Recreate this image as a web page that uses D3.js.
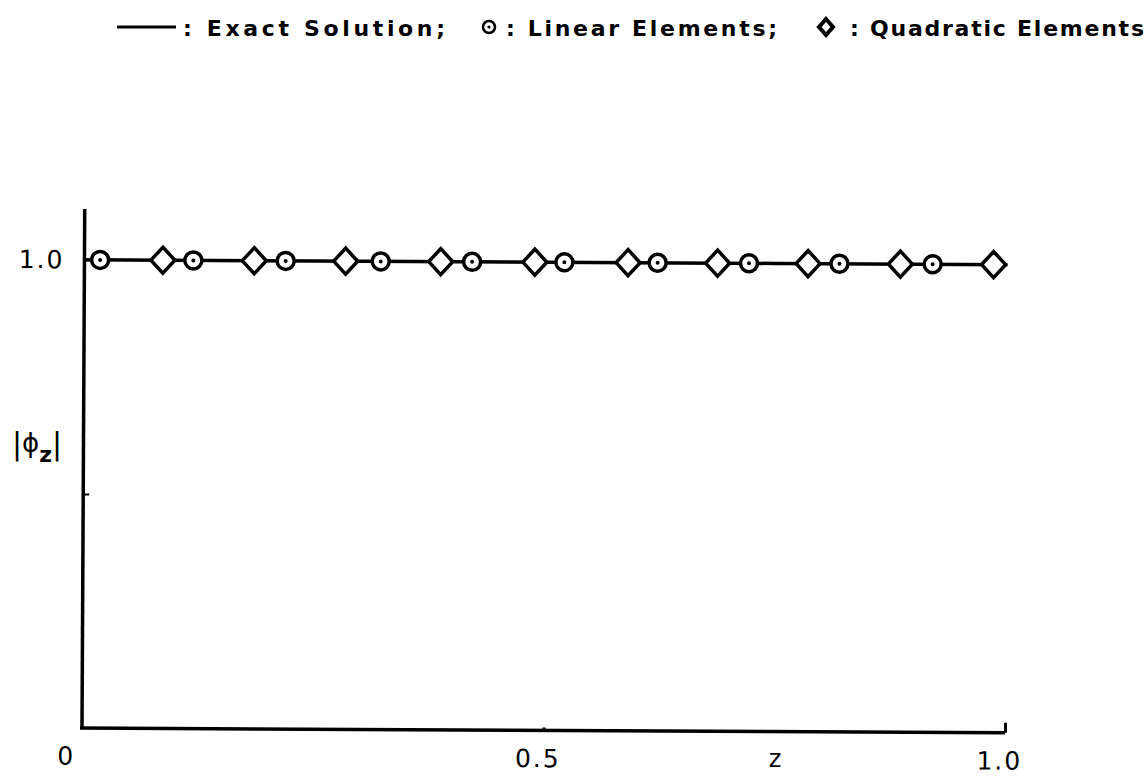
<!DOCTYPE html>
<html>
<head>
<meta charset="utf-8">
<script src="https://cdn.jsdelivr.net/npm/d3@7"></script>
<style>
  body { margin: 0; background: #fff; }
  text { font-family: "DejaVu Sans", sans-serif; fill: #000; }
</style>
</head>
<body>
<div id="chartBox"></div>
<script>
(function () {
  'use strict';

  // exact solution (solid line)
  var exactZ = [0, 0.25, 0.5, 0.75, 1.0];
  var exactPhi = [1.0, 1.0, 1.0, 1.0, 1.0];

  // linear elements (circles)
  var linearZ = [0.017, 0.118, 0.218, 0.321, 0.420, 0.520, 0.621, 0.720, 0.818, 0.919];
  var linearPhi = [1.0, 1.0, 1.0, 1.0, 1.0, 1.0, 1.0, 1.0, 1.0, 1.0];

  // quadratic elements (diamonds)
  var quadZ = [0.085, 0.184, 0.283, 0.386, 0.488, 0.589, 0.686, 0.784, 0.884, 0.985];
  var quadPhi = [1.0, 1.0, 1.0, 1.0, 1.0, 1.0, 1.0, 1.0, 1.0, 1.0];

  var xTicks = [0, 0.5, 1.0];
  var xTickLabels = ["0", "0.5", "1.0"];
  var yTicks = [0.5, 1.0];
  var yTickLabels = ["", "1.0"];

  var legendItems = [
    { kind: "line", text: ": Exact Solution;" },
    { kind: "circle", text: ": Linear Elements;" },
    { kind: "diamond", text: ": Quadratic Elements" }
  ];

  var outerWidth = 1148,
      outerHeight = 776;

  var svg = d3.select("#chartBox").append("svg")
    .attr("width", outerWidth)
    .attr("height", outerHeight);

  svg.append("rect")
    .attr("width", outerWidth)
    .attr("height", outerHeight)
    .attr("fill", "#fff");

  var x = d3.scaleLinear().domain([0, 1]).range([82, 1005]);
  var y = d3.scaleLinear().domain([0, 1.1]).range([728, 213]);

  // the scanned plot is tilted a little
  var plot = svg.append("g")
    .attr("transform", "rotate(0.3," + x(0) + "," + y(0) + ")");

  var xAxis = d3.axisBottom(x)
    .tickValues(xTicks)
    .tickFormat(function (d, i) { return xTickLabels[i]; })
    .tickSizeInner(-8)
    .tickSizeOuter(0)
    .tickPadding(19);

  var gx = plot.append("g")
    .attr("class", "x axis")
    .attr("transform", "translate(0," + y(0) + ")")
    .call(xAxis);
  gx.select(".domain").attr("stroke-width", 3.5).attr("d", "M" + (x(0) - 2) + ",0H" + x(1));
  gx.selectAll(".tick line").attr("stroke-width", 3)
    .attr("y2", function (d) { return d === 1 ? -10 : (d === 0.5 ? -3 : 0); });
  gx.selectAll(".tick text")
    .attr("font-size", 25)
    .attr("letter-spacing", 2)
    .attr("font-family", "DejaVu Sans")
    .attr("dx", function (d) { return d === 0 ? -16 : -6; });

  var yAxis = d3.axisLeft(y)
    .tickValues(yTicks)
    .tickFormat(function (d, i) { return yTickLabels[i]; })
    .tickSizeInner(-6)
    .tickSizeOuter(0)
    .tickPadding(20);

  var gy = plot.append("g")
    .attr("class", "y axis")
    .attr("transform", "translate(" + x(0) + ",0)")
    .call(yAxis);
  gy.select(".domain").attr("stroke-width", 3.5)
    .attr("d", "M0," + y(0) + "V" + (y(1.1) - 4));
  gy.selectAll(".tick line").attr("stroke-width", 2);
  gy.selectAll(".tick text")
    .attr("font-size", 25)
    .attr("letter-spacing", 2)
    .attr("font-family", "DejaVu Sans");

  // |phi_z| axis label
  var ylab = svg.append("text")
    .attr("x", 12)
    .attr("y", 452)
    .attr("font-size", 26);
  ylab.append("tspan").attr("font-size", 30).attr("dy", 2).text("|");
  ylab.append("tspan").attr("dy", -2).text("\u03D5");
  ylab.append("tspan").attr("dy", 10).attr("font-size", 22).attr("font-weight", 700).text("z");
  ylab.append("tspan").attr("dy", -8).attr("font-size", 30).text("|");

  svg.append("text")
    .attr("x", 775)
    .attr("y", 767)
    .attr("text-anchor", "middle")
    .attr("font-size", 24)
    .text("z");

  // exact solution
  var exact = exactZ.map(function (z, i) { return [z, exactPhi[i]]; });
  plot.append("path")
    .datum(exact)
    .attr("fill", "none")
    .attr("stroke", "#000")
    .attr("stroke-width", 3.5)
    .attr("d", d3.line()
      .x(function (d) { return x(d[0]); })
      .y(function (d) { return y(d[1]); }));

  function diamondPath(w, h) {
    return "M0," + (-h) + "L" + w + ",0L0," + h + "L" + (-w) + ",0Z";
  }

  // quadratic elements
  plot.selectAll(".quad")
    .data(quadZ)
    .enter().append("path")
    .attr("class", "quad")
    .attr("transform", function (d, i) { return "translate(" + x(d) + "," + y(quadPhi[i]) + ")"; })
    .attr("d", diamondPath(12, 13))
    .attr("fill", "#fff")
    .attr("stroke", "#000")
    .attr("stroke-width", 3.5);

  // linear elements
  var lin = plot.selectAll(".lin")
    .data(linearZ)
    .enter().append("g")
    .attr("class", "lin")
    .attr("transform", function (d, i) { return "translate(" + x(d) + "," + y(linearPhi[i]) + ")"; });
  lin.append("circle")
    .attr("r", 8.5)
    .attr("fill", "#fff")
    .attr("stroke", "#000")
    .attr("stroke-width", 3.5);
  lin.append("circle")
    .attr("r", 2)
    .attr("fill", "#000");

  // legend
  var legendX = [[117, 183, 262], [489, 506, 271], [826, 850, 294]];
  var legend = svg.append("g").attr("class", "legend");
  legendItems.forEach(function (item, i) {
    var p = legendX[i];
    if (item.kind === "line") {
      legend.append("line")
        .attr("x1", p[0]).attr("x2", 176)
        .attr("y1", 27).attr("y2", 27)
        .attr("stroke", "#000").attr("stroke-width", 3);
    } else if (item.kind === "circle") {
      legend.append("circle")
        .attr("cx", p[0]).attr("cy", 27).attr("r", 6)
        .attr("fill", "#fff").attr("stroke", "#000").attr("stroke-width", 2.5);
      legend.append("circle")
        .attr("cx", p[0]).attr("cy", 27).attr("r", 1.6).attr("fill", "#000");
    } else {
      legend.append("path")
        .attr("transform", "translate(" + p[0] + ",27)")
        .attr("d", diamondPath(7, 8))
        .attr("fill", "#fff").attr("stroke", "#000").attr("stroke-width", 4);
    }
    legend.append("text")
      .attr("x", p[1])
      .attr("y", 36)
      .attr("font-size", 22)
      .attr("font-weight", 700)
      .attr("textLength", p[2])
      .attr("lengthAdjust", "spacing")
      .text(item.text);
  });
})();
</script>
</body>
</html>
